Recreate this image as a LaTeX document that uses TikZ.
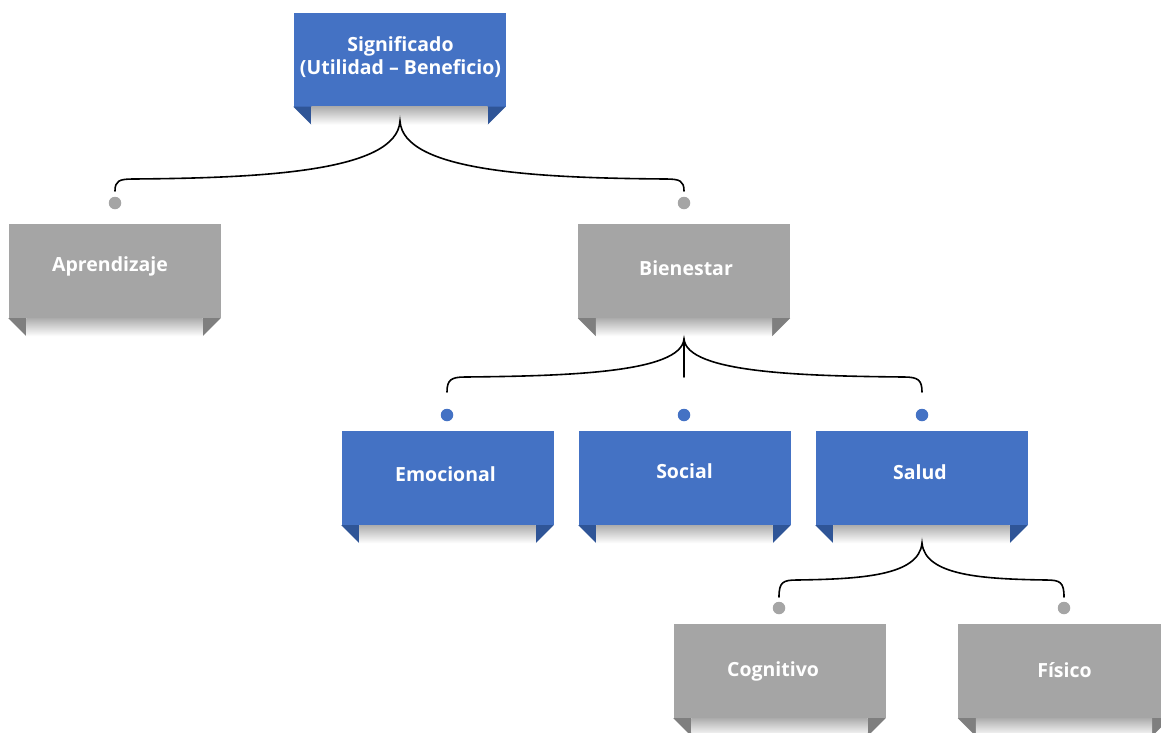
\documentclass[tikz,border=0pt]{standalone}
\usepackage{fontspec}
\setmainfont{Open Sans}
\definecolor{cblue}{HTML}{4472C4}
\definecolor{cbluetail}{HTML}{2F5597}
\definecolor{cgray}{HTML}{A5A5A5}
\definecolor{cgraytail}{HTML}{7F7F7F}
\tikzset{
  box/.style={rectangle, inner sep=0pt, minimum width=212pt, minimum height=94pt},
  boxtext/.style={text=white, font=\bfseries\fontsize{19.5}{22.5}\selectfont, align=center, inner sep=0pt, anchor=base},
  dot/.style={circle, inner sep=0pt, minimum size=12.5pt},
  brace/.style={line width=1.6pt, black, line cap=round},
}
% a ribbon card: coloured box, folded tails and a soft shadow between them;
% #4/#5 place the label's (last) baseline relative to the box centre (x right, y down)
\newcommand\card[6]{%
  \node[box, fill=#1] (#2) at #3 {};
  \node[boxtext] (#2-label) at ([xshift=#4pt, yshift=-#5pt]#2.center) {#6};
  \fill[#1tail] (#2.south west) -- ++(18,0) -- ++(0,18) -- cycle;
  \fill[#1tail] (#2.south east) -- ++(-18,0) -- ++(0,18) -- cycle;
  \shade[top color=black!32, bottom color=white]
    ([xshift=18pt]#2.south west) rectangle ([xshift=-18pt,yshift=-18pt]#2.south east);
}
\begin{document}
\begin{tikzpicture}[x=1pt, y=-1pt]
\clip (0,0) rectangle (1161,732);

% cards
\card{cblue}{sig}{(399.5,59.5)}{1}{14.5}{Significado\\(Utilidad -- Beneficio)}
\card{cgray}{apr}{(114.5,271)}{-4.5}{0.7}{Aprendizaje}
\card{cgray}{bie}{(684,271)}{2}{4.7}{Bienestar}
\card{cblue}{emo}{(447.5,478)}{-2}{3}{Emocional}
\card{cblue}{soc}{(684.5,478)}{0}{0.5}{Social}
\card{cblue}{sal}{(921.5,478)}{-1.5}{1.3}{Salud}
\card{cgray}{cog}{(779.5,671)}{-6.5}{5}{Cognitivo}
\card{cgray}{fis}{(1064,671)}{0.5}{6.7}{Físico}

% attachment dots above the child cards
\node[dot, fill=cgray] (apr-dot) at (115,203) {};
\node[dot, fill=cgray] (bie-dot) at (684,203) {};
\node[dot, fill=cblue] (emo-dot) at (447,415) {};
\node[dot, fill=cblue] (soc-dot) at (684,415) {};
\node[dot, fill=cblue] (sal-dot) at (922,415) {};
\node[dot, fill=cgray] (cog-dot) at (779,608) {};
\node[dot, fill=cgray] (fis-dot) at (1064,608) {};

% brace tips under the parent cards
\coordinate (sig-tip) at (400,121);
\coordinate (bie-tip) at (684,339);
\coordinate (sal-tip) at (922,543);

% Significado -> Aprendizaje, Bienestar
\draw[brace] ([yshift=12pt]apr-dot.center) .. controls (115,181) and (119,179) .. (133,179)
  .. controls (260,178) and (397,172) .. (sig-tip)
  .. controls (403,172) and (540,178) .. (666,179)
  .. controls (680,179) and (684,181) .. ([yshift=12pt]bie-dot.center);

% Bienestar -> Emocional, Social, Salud
\draw[brace] ([yshift=23pt]emo-dot.center) .. controls (447,380) and (451,377) .. (465,377)
  .. controls (565,376) and (681,373) .. (bie-tip)
  .. controls (687,373) and (803,376) .. (904,377)
  .. controls (918,377) and (922,380) .. ([yshift=23pt]sal-dot.center);
\draw[brace] (bie-tip) -- ([yshift=38pt]soc-dot.center);

% Salud -> Cognitivo, Físico
\draw[brace] ([yshift=11pt]cog-dot.center) .. controls (779,582) and (783,580) .. (797,580)
  .. controls (860,579) and (919,576) .. (sal-tip)
  .. controls (925,576) and (984,579) .. (1046,580)
  .. controls (1060,580) and (1064,582) .. ([yshift=11pt]fis-dot.center);
\end{tikzpicture}
\end{document}
